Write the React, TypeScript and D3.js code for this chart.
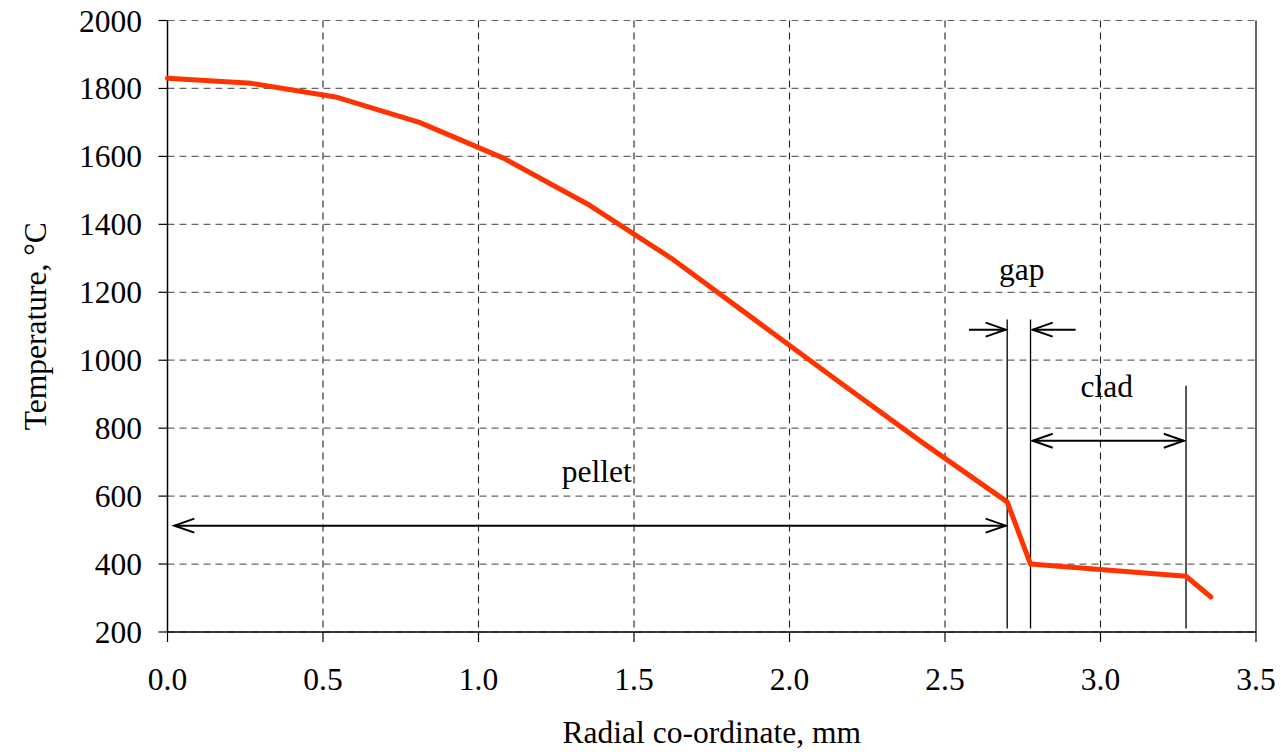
import React from "react";
import * as d3 from "d3";

const radius = [0, 0.27, 0.54, 0.81, 1.08, 1.35, 1.62, 1.89, 2.16, 2.43, 2.70, 2.775, 3.275, 3.355];
const temperature = [1830, 1815, 1775, 1700, 1595, 1460, 1300, 1118, 936, 756, 583, 400, 364, 303];

const xTicks = [0, 0.5, 1.0, 1.5, 2.0, 2.5, 3.0, 3.5];
const yTicks = [200, 400, 600, 800, 1000, 1200, 1400, 1600, 1800, 2000];

// annotation definitions (data units)
const boundaries = [
  { x: 2.70, top: 1120 },
  { x: 2.775, top: 1120 },
  { x: 3.275, top: 925 },
];
const boundaryBottom = 210;
const labels = [
  { text: "pellet", x: 1.38, y: 641 },
  { text: "gap", x: 2.747, y: 1236 },
  { text: "clad", x: 3.02, y: 891 },
];
// arrows: from -> to, heads at listed ends
const arrows = [
  { x1: 2.577, x2: 2.695, y: 1090, heads: ["end"] },
  { x1: 2.92, x2: 2.782, y: 1090, heads: ["end"] },
  { x1: 2.782, x2: 3.268, y: 763, heads: ["start", "end"] },
  { x1: 0.022, x2: 2.695, y: 513, heads: ["start", "end"] },
];

const W = 1281;
const H = 752;
const margin = { left: 167.5, right: 1256, top: 20.5, bottom: 632 };
const FONT = '"Liberation Serif", "Times New Roman", Times, serif';
const FS = 31.5;

export default function App() {
  const x = d3.scaleLinear().domain([0, 3.5]).range([margin.left, margin.right]);
  const y = d3.scaleLinear().domain([200, 2000]).range([margin.bottom, margin.top]);
  const line = d3
    .line<number>()
    .x((_, i) => x(radius[i]))
    .y((d) => y(d));

  const headLen = 20;
  const headHalf = 7;
  const headPath = (tipX: number, tipY: number, dir: number) =>
    `M${tipX - dir * headLen},${tipY - headHalf}L${tipX},${tipY}L${tipX - dir * headLen},${tipY + headHalf}`;

  return (
    <svg
      width={W}
      height={H}
      style={{ position: "absolute", left: 0, top: 0, background: "#fff" }}
      fontFamily={FONT}
    >
      {/* horizontal grid */}
      {yTicks.map((t) => (
        <line
          key={"hg" + t}
          x1={margin.left}
          x2={margin.right}
          y1={y(t)}
          y2={y(t)}
          stroke="#666"
          strokeWidth={1.2}
          strokeDasharray="7,5"
        />
      ))}
      {/* vertical grid */}
      {xTicks.slice(1, -1).map((t) => (
        <line
          key={"vg" + t}
          x1={x(t)}
          x2={x(t)}
          y1={margin.top}
          y2={margin.bottom}
          stroke="#222"
          strokeWidth={1.1}
          strokeDasharray="7,5"
        />
      ))}
      {/* axes frame: left, bottom, right solid */}
      <line x1={margin.left} x2={margin.left} y1={margin.top} y2={margin.bottom} stroke="#000" strokeWidth={1.5} />
      <line x1={margin.left} x2={margin.right} y1={margin.bottom} y2={margin.bottom} stroke="#000" strokeWidth={1.5} />
      <line x1={margin.right} x2={margin.right} y1={margin.top} y2={margin.bottom} stroke="#000" strokeWidth={1.2} />
      {/* y ticks */}
      {yTicks.map((t) => (
        <g key={"yt" + t}>
          <line x1={margin.left - 9} x2={margin.left} y1={y(t)} y2={y(t)} stroke="#000" strokeWidth={1.2} />
          <text x={142} y={y(t)} dy="0.35em" textAnchor="end" fontSize={FS}>
            {t}
          </text>
        </g>
      ))}
      {/* x ticks */}
      {xTicks.map((t) => (
        <g key={"xt" + t}>
          <line x1={x(t)} x2={x(t)} y1={margin.bottom} y2={margin.bottom + 10} stroke="#000" strokeWidth={1.2} />
          <text x={x(t)} y={690} textAnchor="middle" fontSize={FS}>
            {t.toFixed(1)}
          </text>
        </g>
      ))}
      {/* axis titles */}
      <text x={(margin.left + margin.right) / 2} y={743} textAnchor="middle" fontSize={FS}>
        Radial co-ordinate, mm
      </text>
      <text
        transform={`translate(46,${(margin.top + margin.bottom) / 2}) rotate(-90)`}
        textAnchor="middle"
        fontSize={FS}
      >
        Temperature, °C
      </text>
      {/* boundary lines */}
      {boundaries.map((b, i) => (
        <line
          key={"b" + i}
          x1={x(b.x)}
          x2={x(b.x)}
          y1={y(b.top)}
          y2={y(boundaryBottom)}
          stroke="#000"
          strokeWidth={1.3}
        />
      ))}
      {/* arrows */}
      {arrows.map((a, i) => {
        const dir = a.x2 > a.x1 ? 1 : -1;
        return (
          <g key={"a" + i} stroke="#000" strokeWidth={2} fill="none">
            <line x1={x(a.x1)} x2={x(a.x2)} y1={y(a.y)} y2={y(a.y)} />
            {a.heads.includes("end") && <path d={headPath(x(a.x2), y(a.y), dir)} />}
            {a.heads.includes("start") && <path d={headPath(x(a.x1), y(a.y), -dir)} />}
          </g>
        );
      })}
      {/* labels */}
      {labels.map((l) => (
        <text key={l.text} x={x(l.x)} y={y(l.y)} textAnchor="middle" fontSize={FS}>
          {l.text}
        </text>
      ))}
      {/* data line */}
      <path
        d={line(temperature) || ""}
        fill="none"
        stroke="#FF3300"
        strokeWidth={5}
        strokeLinejoin="round"
        strokeLinecap="round"
      />
    </svg>
  );
}
